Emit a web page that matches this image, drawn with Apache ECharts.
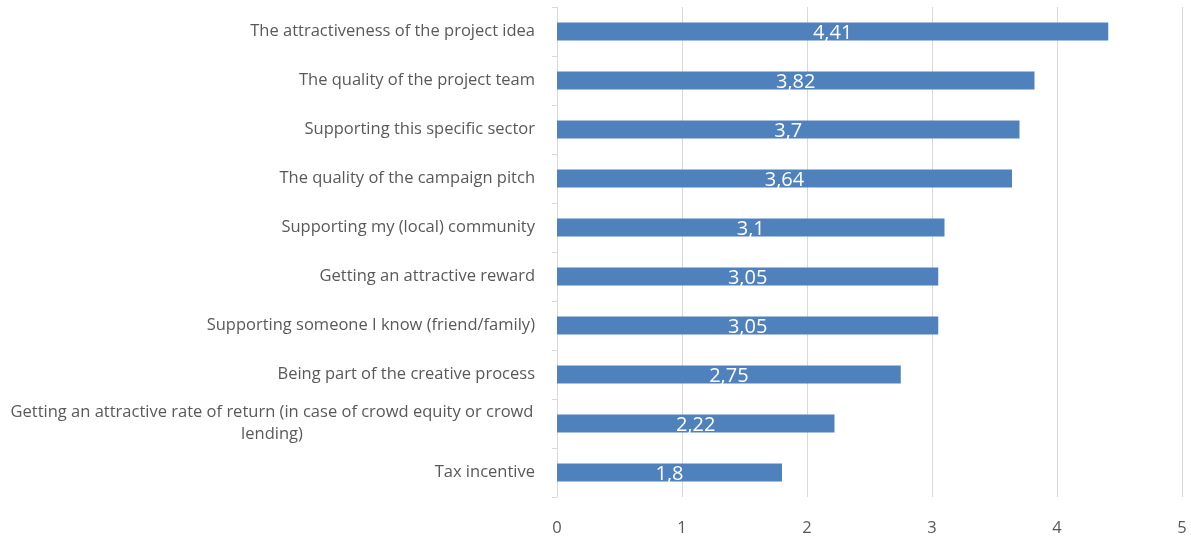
<!DOCTYPE html>
<html>
<head>
<meta charset="utf-8">
<script src="https://cdn.jsdelivr.net/npm/echarts@6/dist/echarts.min.js"></script>
<style>html,body{margin:0;padding:0;background:#fff}#c{width:1191px;height:540px}</style>
</head>
<body>
<div id="c"></div>
<script>
// categories listed bottom to top (ECharts category axis starts at bottom)
const categories = [
  "Tax incentive",
  "Getting an attractive rate of return (in case of crowd equity or crowd\nlending)",
  "Being part of the creative process",
  "Supporting someone I know (friend/family)",
  "Getting an attractive reward",
  "Supporting my (local) community",
  "The quality of the campaign pitch",
  "Supporting this specific sector",
  "The quality of the project team",
  "The attractiveness of the project idea"
];
const values = [1.8, 2.22, 2.75, 3.05, 3.05, 3.1, 3.64, 3.7, 3.82, 4.41];
const xTicks = [0, 1, 2, 3, 4, 5];

const chart = echarts.init(document.getElementById('c'));
chart.setOption({
  animation: false,
  grid: { left: 557, right: 9, top: 7, bottom: 43, containLabel: false },
  xAxis: {
    type: 'value', min: xTicks[0], max: xTicks[xTicks.length - 1], interval: 1,
    axisLine: { show: false }, axisTick: { show: false },
    splitLine: { show: true, lineStyle: { color: '#d9d9d9', width: 1 } },
    axisLabel: { color: '#595959', fontSize: 16.5, fontFamily: 'Open Sans', margin: 23 }
  },
  yAxis: {
    type: 'category', data: categories,
    axisLine: { show: true, lineStyle: { color: '#d9d9d9' } },
    axisTick: { show: true, length: 5, lineStyle: { color: '#d9d9d9' } },
    axisLabel: {
      color: '#595959', fontSize: 16.5, fontFamily: 'Open Sans', margin: 22,
      formatter: function (v) {
        const parts = v.split('\n');
        if (parts.length > 1) return parts.map(p => '{c|' + p + '}').join('\n');
        return v;
      },
      rich: { c: { width: 526, align: 'center', lineHeight: 22, color: '#595959', fontSize: 16.5, fontFamily: 'Open Sans' } }
    }
  },
  series: [{
    type: 'bar', data: values, barWidth: 18,
    itemStyle: { color: '#4f81bd' },
    label: {
      show: true, position: 'inside', color: '#ffffff', fontSize: 20,
      fontFamily: 'Open Sans', offset: [0, 2],
      formatter: p => String(p.value).replace('.', ',')
    }
  }]
});
</script>
</body>
</html>
